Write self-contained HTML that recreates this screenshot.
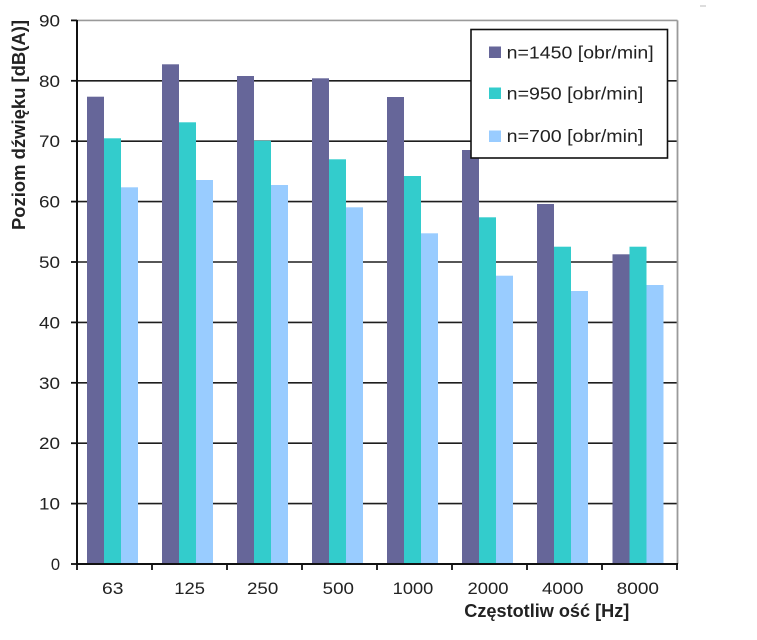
<!DOCTYPE html>
<html><head><meta charset="utf-8"><style>
html,body{margin:0;padding:0;background:#fff;}
svg{display:block;}
text{font-family:"Liberation Sans",Arial,sans-serif;fill:#222;}
</style></head><body>
<svg width="757" height="640" viewBox="0 0 757 640" xmlns="http://www.w3.org/2000/svg">
<rect x="0" y="0" width="757" height="640" fill="#fff"/>
<rect x="700" y="5" width="6" height="2" fill="#ddd"/>
<!-- gridlines -->
<g stroke="#1e1e1e" stroke-width="1.6">
<line x1="77" y1="503.6" x2="677" y2="503.6"/>
<line x1="77" y1="443.2" x2="677" y2="443.2"/>
<line x1="77" y1="382.8" x2="677" y2="382.8"/>
<line x1="77" y1="322.4" x2="677" y2="322.4"/>
<line x1="77" y1="262" x2="677" y2="262"/>
<line x1="77" y1="201.6" x2="677" y2="201.6"/>
<line x1="77" y1="141.2" x2="677" y2="141.2"/>
<line x1="77" y1="80.8" x2="677" y2="80.8"/>
</g>
<!-- plot border top/right -->
<line x1="77" y1="20.4" x2="677.5" y2="20.4" stroke="#9a9a9a" stroke-width="1.6"/>
<line x1="677.5" y1="20.4" x2="677.5" y2="564" stroke="#9a9a9a" stroke-width="1.8"/>
<!-- bars -->
<g>
<rect x="87" y="96.7" width="17" height="467.3" fill="#666699"/>
<rect x="104" y="138.3" width="17" height="425.7" fill="#33CCCC"/>
<rect x="121" y="187.3" width="17" height="376.7" fill="#99CCFF"/>

<rect x="162" y="64.3" width="17" height="499.7" fill="#666699"/>
<rect x="179" y="122.3" width="17" height="441.7" fill="#33CCCC"/>
<rect x="196" y="180" width="17" height="384" fill="#99CCFF"/>

<rect x="237" y="76" width="17" height="488" fill="#666699"/>
<rect x="254" y="140.7" width="17" height="423.3" fill="#33CCCC"/>
<rect x="271" y="185" width="17" height="379" fill="#99CCFF"/>

<rect x="312" y="78.3" width="17" height="485.7" fill="#666699"/>
<rect x="329" y="159.3" width="17" height="404.7" fill="#33CCCC"/>
<rect x="346" y="207.3" width="17" height="356.7" fill="#99CCFF"/>

<rect x="387" y="97" width="17" height="467" fill="#666699"/>
<rect x="404" y="176" width="17" height="388" fill="#33CCCC"/>
<rect x="421" y="233.3" width="17" height="330.7" fill="#99CCFF"/>

<rect x="462" y="150" width="17" height="414" fill="#666699"/>
<rect x="479" y="217.3" width="17" height="346.7" fill="#33CCCC"/>
<rect x="496" y="275.7" width="17" height="288.3" fill="#99CCFF"/>

<rect x="537" y="204" width="17" height="360" fill="#666699"/>
<rect x="554" y="246.7" width="17" height="317.3" fill="#33CCCC"/>
<rect x="571" y="291" width="17" height="273" fill="#99CCFF"/>

<rect x="612.5" y="254.3" width="17" height="309.7" fill="#666699"/>
<rect x="629.5" y="246.7" width="17" height="317.3" fill="#33CCCC"/>
<rect x="646.5" y="285" width="17" height="279" fill="#99CCFF"/>
</g>
<!-- axes -->
<g stroke="#111" stroke-width="2">
<line x1="77" y1="20" x2="77" y2="565"/>
<line x1="76" y1="564" x2="678" y2="564"/>
</g>
<g stroke="#111" stroke-width="1.8">
<line x1="71" y1="564" x2="77" y2="564"/>
<line x1="71" y1="503.6" x2="77" y2="503.6"/>
<line x1="71" y1="443.2" x2="77" y2="443.2"/>
<line x1="71" y1="382.8" x2="77" y2="382.8"/>
<line x1="71" y1="322.4" x2="77" y2="322.4"/>
<line x1="71" y1="262" x2="77" y2="262"/>
<line x1="71" y1="201.6" x2="77" y2="201.6"/>
<line x1="71" y1="141.2" x2="77" y2="141.2"/>
<line x1="71" y1="80.8" x2="77" y2="80.8"/>
<line x1="71" y1="20.4" x2="77" y2="20.4"/>
<line x1="77" y1="564" x2="77" y2="570"/>
<line x1="152" y1="564" x2="152" y2="570"/>
<line x1="227" y1="564" x2="227" y2="570"/>
<line x1="302" y1="564" x2="302" y2="570"/>
<line x1="377" y1="564" x2="377" y2="570"/>
<line x1="452" y1="564" x2="452" y2="570"/>
<line x1="527" y1="564" x2="527" y2="570"/>
<line x1="602" y1="564" x2="602" y2="570"/>
<line x1="677" y1="564" x2="677" y2="570"/>
</g>
<!-- y labels -->
<g font-size="16.5" text-anchor="end">
<text x="60" y="570">0</text>
<text x="60" y="509.6" textLength="21" lengthAdjust="spacingAndGlyphs">10</text>
<text x="60" y="449.2" textLength="21" lengthAdjust="spacingAndGlyphs">20</text>
<text x="60" y="388.8" textLength="21" lengthAdjust="spacingAndGlyphs">30</text>
<text x="60" y="328.4" textLength="21" lengthAdjust="spacingAndGlyphs">40</text>
<text x="60" y="268" textLength="21" lengthAdjust="spacingAndGlyphs">50</text>
<text x="60" y="207.6" textLength="21" lengthAdjust="spacingAndGlyphs">60</text>
<text x="60" y="147.2" textLength="21" lengthAdjust="spacingAndGlyphs">70</text>
<text x="60" y="86.8" textLength="21" lengthAdjust="spacingAndGlyphs">80</text>
<text x="60" y="26.4" textLength="21" lengthAdjust="spacingAndGlyphs">90</text>
</g>
<!-- x labels -->
<g font-size="16.5">
<text x="102" y="594" textLength="21.5" lengthAdjust="spacingAndGlyphs">63</text>
<text x="174.3" y="594" textLength="30.7" lengthAdjust="spacingAndGlyphs">125</text>
<text x="247" y="594" textLength="31.3" lengthAdjust="spacingAndGlyphs">250</text>
<text x="322.7" y="594" textLength="31.3" lengthAdjust="spacingAndGlyphs">500</text>
<text x="392.7" y="594" textLength="40.6" lengthAdjust="spacingAndGlyphs">1000</text>
<text x="467.5" y="594" textLength="41" lengthAdjust="spacingAndGlyphs">2000</text>
<text x="542" y="594" textLength="41.5" lengthAdjust="spacingAndGlyphs">4000</text>
<text x="616.7" y="594" textLength="42.3" lengthAdjust="spacingAndGlyphs">8000</text>
</g>
<!-- axis titles -->
<text x="464.3" y="617" font-size="18" font-weight="bold" textLength="165" lengthAdjust="spacingAndGlyphs">Częstotliw ość [Hz]</text>
<text transform="translate(25,125) rotate(-90)" x="0" y="0" font-size="18" font-weight="bold" text-anchor="middle" textLength="210" lengthAdjust="spacingAndGlyphs">Poziom dźwięku [dB(A)]</text>
<!-- legend -->
<rect x="471" y="29.5" width="196.5" height="128.5" fill="#fff" stroke="#111" stroke-width="1.6"/>
<rect x="489" y="46.5" width="12" height="11.5" fill="#666699"/>
<rect x="489" y="87.5" width="12" height="11.5" fill="#33CCCC"/>
<rect x="489" y="130.5" width="12" height="11.5" fill="#99CCFF"/>
<g font-size="17.5">
<text x="506.7" y="58.3" textLength="147" lengthAdjust="spacingAndGlyphs">n=1450 [obr/min]</text>
<text x="506.7" y="99.3" textLength="136.6" lengthAdjust="spacingAndGlyphs">n=950 [obr/min]</text>
<text x="506.7" y="142" textLength="136.6" lengthAdjust="spacingAndGlyphs">n=700 [obr/min]</text>
</g>
</svg>
</body></html>
